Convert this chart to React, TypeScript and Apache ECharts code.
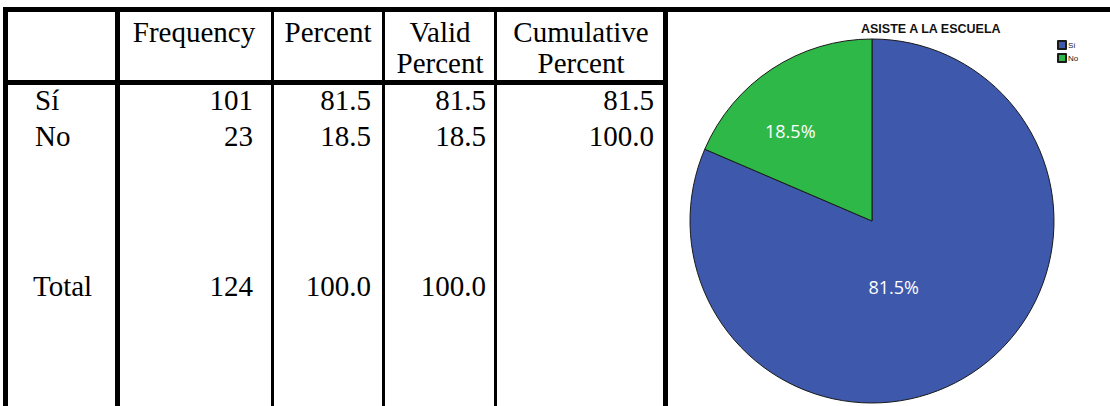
import React, { useEffect, useRef } from "react";
import * as echarts from "echarts";

// ---- data ----
const categories = ["Sí", "No"];
const frequency = [101, 23];
const percent = [81.5, 18.5];
const validPercent = [81.5, 18.5];
const cumulativePercent = [81.5, 100.0];
const totalLabel = "Total";
const totalFrequency = 124;
const totalPercent = 100.0;
const totalValidPercent = 100.0;
const headerLine1 = ["Frequency", "Percent", "Valid", "Cumulative"];
const headerLine2 = ["", "", "Percent", "Percent"];
const chartTitle = "ASISTE A LA ESCUELA";
const sliceColors = ["#3e58ac", "#2eb848"];

// ---- layout (styles / positions) ----
const TABLE_FONT = '"Liberation Serif", "Times New Roman", serif';
const TABLE_SIZE = 29;
const colRight = [253, 371, 486, 654];
const colCenter = [194, 328, 440, 581];
const labelX = 35;
const headerY = [32, 63];
const rowY = [100, 136];
const totalY = 286;

function App() {
  const ref = useRef<HTMLDivElement>(null);

  useEffect(() => {
    document.body.style.margin = "0";
    const chart = echarts.init(ref.current!, null, { renderer: "svg" });

    const graphics: any[] = [];
    const bar = (x: number, y: number, w: number, h: number) =>
      graphics.push({
        type: "rect",
        silent: true,
        shape: { x, y, width: w, height: h },
        style: { fill: "#000" },
      });
    const txt = (text: string, x: number, y: number, align: string) =>
      graphics.push({
        type: "text",
        silent: true,
        x,
        y,
        style: {
          text,
          fill: "#000",
          fontSize: TABLE_SIZE,
          fontFamily: TABLE_FONT,
          align,
          verticalAlign: "middle",
        },
      });

    // table rules
    bar(3, 7, 1107, 5); // top rule
    bar(3, 80, 665, 5); // header bottom rule
    bar(3, 7, 5, 399); // left border
    bar(115, 7, 5, 399); // after labels
    bar(271, 7, 3, 399);
    bar(382, 7, 3, 399);
    bar(494, 7, 3, 399);
    bar(663, 7, 5, 399); // right border

    // headers
    headerLine1.forEach((h, i) => txt(h, colCenter[i], headerY[0], "center"));
    headerLine2.forEach((h, i) => {
      if (h) txt(h, colCenter[i], headerY[1], "center");
    });

    // rows
    categories.forEach((c, i) => {
      txt(c, labelX, rowY[i], "left");
      txt(String(frequency[i]), colRight[0], rowY[i], "right");
      txt(percent[i].toFixed(1), colRight[1], rowY[i], "right");
      txt(validPercent[i].toFixed(1), colRight[2], rowY[i], "right");
      txt(cumulativePercent[i].toFixed(1), colRight[3], rowY[i], "right");
    });
    txt(totalLabel, labelX - 2, totalY, "left");
    txt(String(totalFrequency), colRight[0], totalY, "right");
    txt(totalPercent.toFixed(1), colRight[1], totalY, "right");
    txt(totalValidPercent.toFixed(1), colRight[2], totalY, "right");

    const sum = frequency.reduce((a, b) => a + b, 0);

    chart.setOption({
      animation: false,
      title: {
        text: chartTitle,
        left: 861,
        top: 22,
        padding: 0,
        textStyle: {
          fontSize: 12.5,
          fontWeight: "bold",
          fontFamily: '"Liberation Sans", Arial, sans-serif',
          color: "#111",
        },
      },
      legend: {
        orient: "vertical",
        left: 1057,
        top: 40,
        padding: 0,
        itemWidth: 8,
        itemHeight: 8,
        itemGap: 3,
        icon: "rect",
        selectedMode: false,
        textStyle: {
          fontSize: 8,
          fontFamily: '"Liberation Sans", Arial, sans-serif',
          color: "#222",
          padding: [0, 0, 0, -3],
        },
      },
      graphic: graphics,
      series: [
        {
          type: "pie",
          center: [872, 221],
          radius: 182,
          startAngle: 90,
          clockwise: true,
          silent: true,
          data: categories.map((c, i) => ({
            name: c,
            value: frequency[i],
            itemStyle: { color: sliceColors[i] },
          })),
          itemStyle: { borderColor: "#1a1a1a", borderWidth: 1 },
          label: {
            show: true,
            position: "inside",
            formatter: (p: any) => ((p.value / sum) * 100).toFixed(1) + "%",
            color: "#fff",
            fontSize: 18,
            fontFamily: '"Open Sans", "Noto Sans", sans-serif',
          },
          labelLayout: { dx: -30, dy: -12 },
          labelLine: { show: false },
          emphasis: { disabled: true },
        },
      ],
    });

    return () => chart.dispose();
  }, []);

  return <div ref={ref} style={{ width: 1110, height: 406 }} />;
}

export default App;
